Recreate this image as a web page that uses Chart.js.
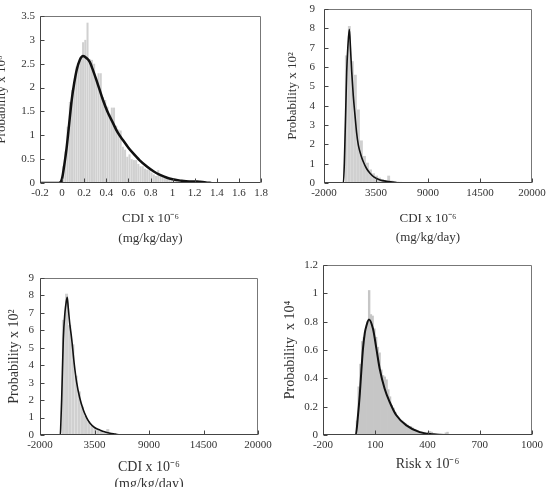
<!DOCTYPE html>
<html><head><meta charset="utf-8">
<script src="https://cdn.jsdelivr.net/npm/chart.js@4.4.0/dist/chart.umd.min.js"></script>
<style>
html,body{margin:0;padding:0;background:#fff;overflow:hidden;width:547px;height:487px;position:relative;}
canvas{position:absolute;left:-20px;top:0;}
</style></head><body>
<canvas id="c1" width="587" height="520"></canvas>
<canvas id="c2" width="587" height="520"></canvas>
<canvas id="c3" width="587" height="520"></canvas>
<canvas id="c4" width="587" height="520"></canvas>
<script>
// ---------- Panel 1 (CDI, x 10^-6) ----------
const p1BinCenters = [0.01,0.03,0.05,0.07,0.09,0.11,0.13,0.15,0.17,0.19,0.21,0.23,0.25,0.27,0.29,0.31,0.33,0.35,0.37,0.39,
  0.41,0.43,0.45,0.47,0.49,0.51,0.53,0.55,0.57,0.59,0.61,0.63,0.65,0.67,0.69,0.71,0.73,0.75,0.77,0.79,
  0.81,0.83,0.85,0.87,0.89,0.91,0.93,0.95,0.97,0.99,1.01,1.03,1.05,1.07,1.09,1.11,1.13,1.15,1.17,1.19,
  1.21,1.23,1.25,1.27,1.29];
const p1BinValues = [0.35,0.66,1.18,1.7,1.95,2.1,2.44,2.5,2.62,2.95,3.0,3.36,2.6,2.58,2.5,2.2,2.3,2.3,1.8,1.74,
  1.6,1.45,1.58,1.58,1.2,1.12,1.1,0.76,0.7,0.55,0.6,0.5,0.48,0.48,0.4,0.35,0.35,0.3,0.28,0.27,
  0.22,0.18,0.15,0.27,0.15,0.13,0.13,0.1,0.08,0.06,0.06,0.04,0.03,0.03,0.02,0.02,0.02,0.02,0.02,0.03,
  0.04,0.05,0.05,0.04,0.04];
const p1CurveX = [-0.2,-0.03,0.0,0.02,0.04,0.06,0.087,0.11,0.132,0.16,0.19,0.22,0.25,0.28,0.31,0.34,0.37,0.41,0.46,0.5,
  0.55,0.6,0.64,0.7,0.77,0.83,0.886,0.95,1.0,1.07,1.15,1.22,1.3,1.35];
const p1CurveY = [0,0,0.1,0.38,0.72,1.15,1.74,2.1,2.37,2.58,2.66,2.62,2.54,2.36,2.16,1.95,1.74,1.5,1.26,1.07,
  0.9,0.74,0.63,0.48,0.34,0.24,0.17,0.11,0.08,0.05,0.03,0.03,0.01,0];

// ---------- Panel 2 (CDI, x 10^-6) ----------
const p2BinCenters = [360,680,1000,1320,1640,1960,2280,2600,2920,3240,3560,3880,4200,4520,4840,5160,5480,5800,6120,6440,
  6760,7080,7400,7720,8040,8360,13160,16360,17640];
const p2BinValues = [6.6,8.12,6.3,5.6,3.8,2.2,1.4,1.05,0.7,0.5,0.38,0.28,0.2,0.15,0.38,0.12,0.1,0.07,0.06,0.05,
  0.04,0.03,0.05,0.03,0.02,0.02,0.05,0.04,0.05];
const p2CurveX = [-2000,50,150,221,310,401,520,676,800,930,1100,1279,1450,1628,1900,2157,2500,2865,3300,3923,4600,5298,6200,20000];
const p2CurveY = [0,0,1.0,2.3,4.0,5.76,7.0,7.95,7.0,5.76,4.5,3.5,2.6,1.97,1.45,1.1,0.75,0.5,0.3,0.16,0.09,0.05,0,0];

// ---------- Panel 3 (CDI, x 10^-6) ----------
const p3BinCenters = [360,680,1000,1320,1640,1960,2280,2600,2920,3240,3560,3880,4200,4520,4840,5160,5480,5800,6120,6440,
  6760,7080,7400,7720,13160,16360,17640];
const p3BinValues = [6.6,8.1,6.3,5.2,3.4,2.5,1.63,1.1,0.78,0.55,0.42,0.3,0.24,0.15,0.34,0.1,0.08,0.06,0.05,0.03,
  0.03,0.02,0.04,0.02,0.04,0.04,0.04];
const p3CurveX = [-2000,50,100,190,352,523,640,750,850,1000,1199,1450,1703,2000,2375,2700,3050,3500,4060,4500,5070,5600,6100,20000];
const p3CurveY = [0,0,0.6,2.1,5.5,7.05,7.6,7.9,7.3,6.4,5.5,4.1,3.0,2.15,1.43,1.0,0.67,0.43,0.28,0.18,0.1,0.05,0,0];

// ---------- Panel 4 (Risk, x 10^-6) ----------
const p4BinCenters = [-5,5,15,25,35,45,55,65,75,85,95,105,115,125,135,145,155,165,175,185,
  195,205,215,225,235,245,255,265,275,285,295,305,315,325,335,345,355,365,375,385,
  395,405,415,425,435,445,455,465,475,485,495,505,515,525];
const p4BinValues = [0.1,0.34,0.5,0.66,0.69,0.74,0.8,1.02,0.85,0.84,0.75,0.69,0.62,0.58,0.46,0.42,0.41,0.39,0.32,0.27,
  0.21,0.19,0.16,0.14,0.12,0.106,0.1,0.09,0.08,0.07,0.06,0.06,0.05,0.04,0.035,0.03,0.025,0.025,0.02,0.015,
  0.01,0.02,0.025,0.02,0.01,0.008,0.005,0.005,0.004,0.004,0.005,0.015,0.02,0.005];
const p4CurveX = [-200,-12,1,10.7,20,29.6,40,49,64,87,106.5,125.5,154,183,221,279,355,431,500,1000];
const p4CurveY = [0,0,0.14,0.28,0.45,0.61,0.72,0.77,0.816,0.75,0.61,0.468,0.327,0.233,0.139,0.068,0.02,0.005,0,0];

// ---------- Axis ranges / titles ----------
const axes = {
  p1: {xMin:-0.2, xMax:1.8, xStep:0.2, yMax:3.5, yStep:0.5, xTitle:['CDI x 10⁻⁶','(mg/kg/day)'], yTitle:'Probability x 10⁶'},
  p2: {xMin:-2000, xMax:20000, xStep:5500, yMax:9, yStep:1, xTitle:['CDI x 10⁻⁶','(mg/kg/day)'], yTitle:'Probability x 10²'},
  p3: {xMin:-2000, xMax:20000, xStep:5500, yMax:9, yStep:1, xTitle:['CDI x 10⁻⁶','(mg/kg/day)'], yTitle:'Probability x 10²'},
  p4: {xMin:-200, xMax:1000, xStep:300, yMax:1.2, yStep:0.2, xTitle:['Risk x 10⁻⁶'], yTitle:'Probability  x 10⁴'}
};

const OFFX = 20, CW = 587, CH = 520;
const FAMILY = "'Liberation Serif','Times New Roman',serif";
const TXT = '#333';
const fmt = v => String(Math.round(v * 1e6) / 1e6);

const frameTicks = {
  id: 'frameTicks',
  afterDatasetsDraw(chart) {
    const {ctx, chartArea: a} = chart;
    const xs = chart.scales.x, ys = chart.scales.y;
    const L = Math.round(a.left) + 0.5, R = Math.round(a.right) - 0.5;
    const T = Math.round(a.top) + 0.5, B = Math.round(a.bottom) - 0.5;
    ctx.save();
    ctx.lineWidth = 1;
    ctx.strokeStyle = '#777';
    ctx.beginPath();
    ctx.moveTo(L, T); ctx.lineTo(R, T); ctx.lineTo(R, B);
    ctx.stroke();
    ctx.strokeStyle = '#444';
    ctx.beginPath();
    ctx.moveTo(L, T); ctx.lineTo(L, B); ctx.lineTo(R, B);
    xs.ticks.forEach((t, i) => {
      const px = Math.round(xs.getPixelForTick(i)) + 0.5;
      ctx.moveTo(px, B); ctx.lineTo(px, B - 4);
    });
    ys.ticks.forEach((t, i) => {
      const py = Math.round(ys.getPixelForTick(i)) + 0.5;
      ctx.moveTo(L, py); ctx.lineTo(L + 4, py);
    });
    ctx.stroke();
    ctx.restore();
  }
};

function pts(xs, ys) { return xs.map((x, i) => ({x, y: ys[i]})); }

function makeChart(id, ax, bins, vals, cx, cy, g) {
  const yLh = g.yTitleSize * 1.2;
  const yBoxLeft = g.yTitleCx - yLh / 2;
  const yW = g.L - yBoxLeft;
  const xH = g.xTitleLast + g.xTitleLh / 2 - g.B;
  new Chart(document.getElementById(id), {
    type: 'bar',
    data: {
      datasets: [
        {type: 'line', data: pts(cx, cy), borderColor: '#111', borderWidth: g.lineW, pointRadius: 0,
         cubicInterpolationMode: 'monotone', order: 0},
        {type: 'bar', data: pts(bins, vals), backgroundColor: g.barColor, borderWidth: 0,
         barPercentage: g.barPct, categoryPercentage: 1, order: 1}
      ]
    },
    options: {
      responsive: false, animation: false, events: [],
      layout: {padding: {left: yBoxLeft + OFFX, top: g.T, right: CW - (g.R + OFFX), bottom: CH - (g.B + xH)}},
      plugins: {legend: {display: false}, tooltip: {enabled: false}},
      scales: {
        x: {
          type: 'linear', min: ax.xMin, max: ax.xMax, offset: false,
          grid: {display: false, drawTicks: false, offset: false}, border: {display: false},
          ticks: {stepSize: ax.xStep, padding: 4, autoSkip: false, maxRotation: 0, color: TXT,
                  font: {family: FAMILY, size: 11}, callback: fmt},
          title: {display: true, text: ax.xTitle, color: TXT, padding: 0,
                  font: {family: FAMILY, size: g.xTitleSize, lineHeight: g.xTitleLh + 'px'}},
          afterFit(s) { s.height = xH; s.paddingLeft = 0; s.paddingRight = 0; s.paddingTop = 0; s.paddingBottom = 0; }
        },
        y: {
          type: 'linear', min: 0, max: ax.yMax,
          grid: {display: false, drawTicks: false}, border: {display: false},
          ticks: {stepSize: ax.yStep, padding: g.yTickPad, color: TXT,
                  font: {family: FAMILY, size: 11}, callback: fmt},
          title: {display: true, text: ax.yTitle, color: TXT, padding: 0,
                  font: {family: FAMILY, size: g.yTitleSize, lineHeight: 1.2}},
          afterFit(s) { s.width = yW; s.paddingLeft = 0; s.paddingRight = 0; s.paddingTop = 0; s.paddingBottom = 0; }
        }
      }
    },
    plugins: [frameTicks]
  });
}

makeChart('c1', axes.p1, p1BinCenters, p1BinValues, p1CurveX, p1CurveY,
  {L:40, R:261, T:16, B:183, yTitleCx:2, yTitleSize:13, yTickPad:5, xTitleLh:20, xTitleLast:239, xTitleSize:13,
   lineW:2.5, barColor:'#d0d0d0', barPct:0.92});
makeChart('c2', axes.p2, p2BinCenters, p2BinValues, p2CurveX, p2CurveY,
  {L:324, R:532, T:9, B:183, yTitleCx:293, yTitleSize:13, yTickPad:9, xTitleLh:19, xTitleLast:238, xTitleSize:13,
   lineW:1.6, barColor:'#d0d0d0', barPct:0.95});
makeChart('c3', axes.p3, p3BinCenters, p3BinValues, p3CurveX, p3CurveY,
  {L:40, R:258, T:278, B:435, yTitleCx:14, yTitleSize:14, yTickPad:6, xTitleLh:17, xTitleLast:484, xTitleSize:14,
   lineW:1.6, barColor:'#d0d0d0', barPct:0.95});
makeChart('c4', axes.p4, p4BinCenters, p4BinValues, p4CurveX, p4CurveY,
  {L:323, R:532, T:265, B:435, yTitleCx:290, yTitleSize:14, yTickPad:5, xTitleLh:17, xTitleLast:464, xTitleSize:14,
   lineW:2, barColor:'#c6c6c6', barPct:1});
</script>
</body></html>
